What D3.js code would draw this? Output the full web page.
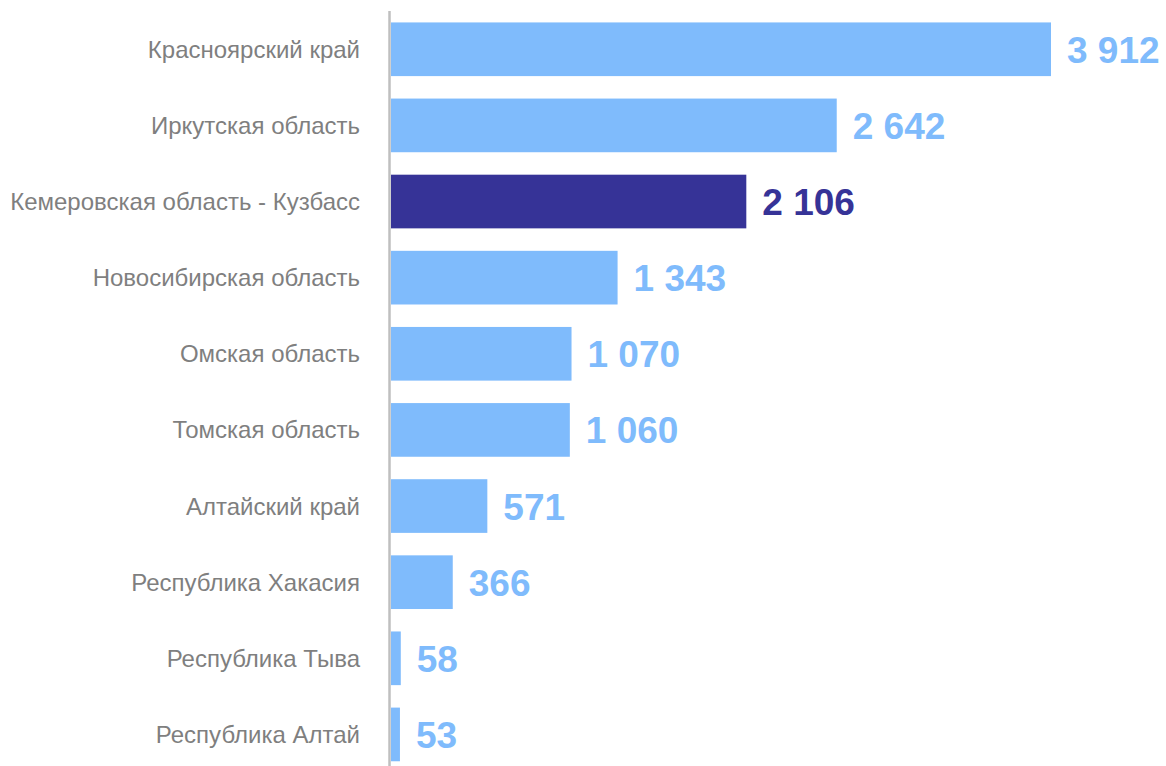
<!DOCTYPE html>
<meta charset="utf-8">
<style>
    body { margin: 0; background: #fff; }
    .label { font: 24px "Liberation Sans", Arial, sans-serif; fill: #7f7f7f; }
    .value { font: bold 37px "Liberation Sans", Arial, sans-serif; }
    .axis-line { stroke: #bfbfbf; stroke-width: 2.5; }
</style>
<body>
<script src="https://d3js.org/d3.v7.min.js"></script>
<script>
    // Data
    var regions = ["Красноярский край", "Иркутская область", "Кемеровская область - Кузбасс",
        "Новосибирская область", "Омская область", "Томская область", "Алтайский край",
        "Республика Хакасия", "Республика Тыва", "Республика Алтай"];
    var values = [3912, 2642, 2106, 1343, 1070, 1060, 571, 366, 58, 53];
    var highlighted = ["Кемеровская область - Кузбасс"];

    var width = 1166, height = 766;
    var x0 = 391;

    var svg = d3.select("body").append("svg")
        .attr("width", width)
        .attr("height", height);

    var x = d3.scaleLinear()
        .domain([0, 3912])
        .range([x0, 1051]);

    var y = d3.scaleBand()
        .domain(regions)
        .range([11.2, 772.5])
        .paddingInner(0.295)
        .paddingOuter(0.1475);

    var data = regions.map(function (r, i) { return {name: r, value: values[i]}; });
    var fmt = function (v) { return d3.format(",")(v).replace(/,/g, " "); };

    // bars
    svg.append("g")
        .selectAll("rect")
        .data(data)
        .enter().append("rect")
        .attr("x", x0)
        .attr("y", d => y(d.name))
        .attr("width", d => x(d.value) - x0)
        .attr("height", y.bandwidth())
        .attr("fill", d => highlighted.includes(d.name) ? "#363397" : "#7fbbfc");

    // value labels
    svg.append("g")
        .selectAll("text")
        .data(data)
        .enter().append("text")
        .attr("class", "value")
        .attr("x", d => x(d.value) + 16)
        .attr("y", d => y(d.name) + y.bandwidth() / 2 + 1)
        .attr("dominant-baseline", "central")
        .attr("fill", d => highlighted.includes(d.name) ? "#363397" : "#7fbbfc")
        .text(d => fmt(d.value));

    // category labels
    svg.append("g")
        .selectAll("text")
        .data(data)
        .enter().append("text")
        .attr("class", "label")
        .attr("x", 360)
        .attr("y", d => y(d.name) + y.bandwidth() / 2)
        .attr("text-anchor", "end")
        .attr("dominant-baseline", "central")
        .text(d => d.name);

    // vertical axis line
    svg.append("line")
        .attr("class", "axis-line")
        .attr("x1", 389.5).attr("x2", 389.5)
        .attr("y1", 11).attr("y2", height);
</script>
</body>
